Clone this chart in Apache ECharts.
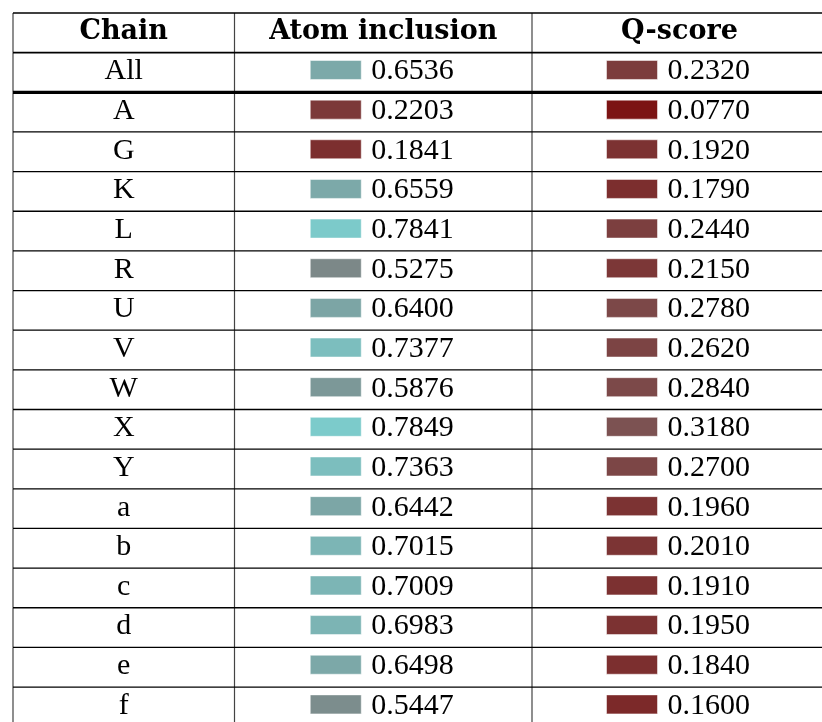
<!DOCTYPE html>
<html><head><meta charset="utf-8">
<script src="https://cdn.jsdelivr.net/npm/echarts@6/dist/echarts.min.js"></script>
<style>html,body{margin:0;padding:0;background:#fff}#c{width:822px;height:722px}</style>
</head><body><div id="c"></div>
<script>
const headers = ['Chain', 'Atom inclusion', 'Q-score'];
const chains = ['All', 'A', 'G', 'K', 'L', 'R', 'U', 'V', 'W', 'X', 'Y', 'a', 'b', 'c', 'd', 'e', 'f'];
const atomInclusion = [0.6536, 0.2203, 0.1841, 0.6559, 0.7841, 0.5275, 0.6400, 0.7377, 0.5876, 0.7849, 0.7363, 0.6442, 0.7015, 0.7009, 0.6983, 0.6498, 0.5447];
const qScore = [0.2320, 0.0770, 0.1920, 0.1790, 0.2440, 0.2150, 0.2780, 0.2620, 0.2840, 0.3180, 0.2700, 0.1960, 0.2010, 0.1910, 0.1950, 0.1840, 0.1600];

const rowLabels = ['header'].concat(chains);
const colEdges = [0, 221.5, 519, 814];
const ROW_H = 39.65;

function valueColor(v) {
  const g = Math.round(Math.min(255, v * 258));
  return 'rgb(124,' + g + ',' + g + ')';
}

const bodyFont = { fontFamily: '"Liberation Serif", serif', fontSize: 30, fill: '#000' };
const headFont = { fontFamily: '"DejaVu Serif", serif', fontWeight: 'bold', fontSize: 27, fill: '#000' };

function renderItem(params, api) {
  const i = api.value(1);
  const c = api.coord([0, i]);
  const h = api.size([0, 1])[1];
  const yTop = c[1] - h / 2, yBot = c[1] + h / 2, yMid = c[1];
  const xs = colEdges.map(e => api.coord([e, i])[0]);
  const children = [];
  for (let k = 0; k < 3; k++) {
    children.push({ type: 'line', shape: { x1: xs[k], y1: yTop, x2: xs[k], y2: yBot }, style: { stroke: '#444', lineWidth: 1.2 } });
  }
  const lw = i === 0 ? 1.4 : (i === 1 ? 1.7 : (i === 2 ? 3.2 : 1.3));
  children.push({ type: 'line', shape: { x1: xs[0], y1: yTop, x2: xs[3], y2: yTop }, style: { stroke: '#000', lineWidth: lw } });
  const centers = [0, 1, 2].map(k => (xs[k] + xs[k + 1]) / 2);
  if (i === 0) {
    for (let k = 0; k < 3; k++) {
      children.push({ type: 'text', style: Object.assign({ text: headers[k], x: centers[k], y: yMid - 1, align: 'center', verticalAlign: 'middle' }, headFont) });
    }
  } else {
    const r = i - 1;
    children.push({ type: 'text', style: Object.assign({ text: chains[r], x: centers[0], y: yMid - 1, align: 'center', verticalAlign: 'middle' }, bodyFont) });
    const vals = [atomInclusion[r], qScore[r]];
    for (let k = 0; k < 2; k++) {
      const cx = centers[k + 1];
      const v = vals[k];
      children.push({ type: 'rect', shape: { x: cx - 73, y: yMid - 12, width: 51, height: 19 }, style: { fill: valueColor(v), stroke: 'rgba(255,255,255,0.5)', lineWidth: 1 } });
      children.push({ type: 'text', style: Object.assign({ text: v.toFixed(4), x: cx - 12, y: yMid - 1, align: 'left', verticalAlign: 'middle' }, bodyFont) });
    }
  }
  return { type: 'group', children: children };
}

const chart = echarts.init(document.getElementById('c'), null, { renderer: 'canvas' });
chart.setOption({
  animation: false,
  backgroundColor: '#fff',
  grid: { left: 13, top: 13, width: 814, height: rowLabels.length * ROW_H, outerBoundsMode: 'none', containLabel: false },
  xAxis: { type: 'value', min: 0, max: 814, show: false },
  yAxis: { type: 'category', data: rowLabels, inverse: true, show: false },
  series: [{
    type: 'custom',
    data: rowLabels.map((r, i) => [0, i]),
    encode: { x: 0, y: 1 },
    clip: false,
    renderItem: renderItem
  }]
});
</script>
</body></html>
